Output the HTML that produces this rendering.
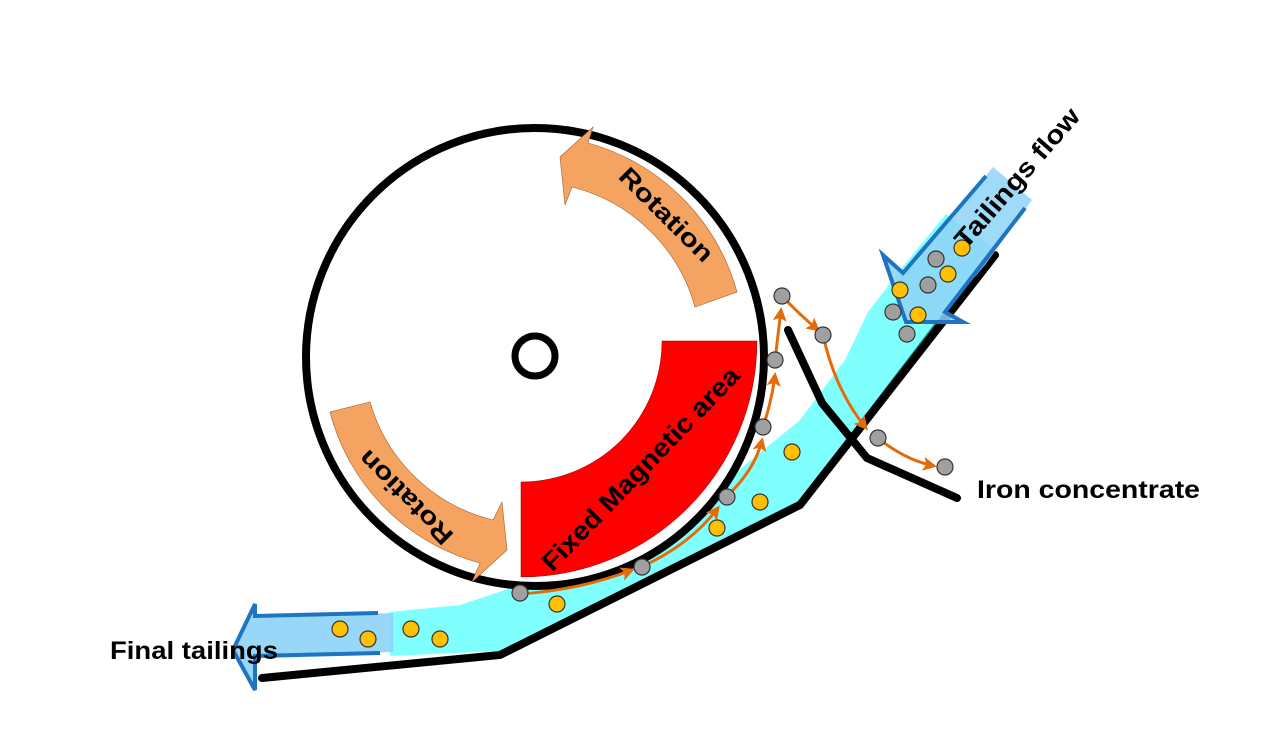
<!DOCTYPE html>
<html><head><meta charset="utf-8"><style>
html,body{margin:0;padding:0;background:#fff;}
svg{display:block;}
text{font-family:"Liberation Sans",sans-serif;font-weight:bold;fill:#000;}
</style></head><body>
<svg width="1277" height="735" viewBox="0 0 1277 735" xmlns="http://www.w3.org/2000/svg">
<defs>
<marker id="ah" markerWidth="14" markerHeight="14" refX="11" refY="7" orient="auto" markerUnits="userSpaceOnUse" viewBox="0 0 14 14">
<path d="M0,0 L14,7 L0,14 L3,7 Z" fill="#e36c0a"/>
</marker>
</defs>
<path d="M946,214 L905,264 L868,312 L845,360 L800,420 L745,465 L690,515 L610,556 L520,585 L460,605 L390,612 L390,656 L500,651 L800,500 L992,248 Z" fill="#80ffff"/>
<path d="M992,248 L800,500 L500,651 L500,657 L804,506 L998,254 Z" fill="#0f8a8a"/>
<polyline points="995,255 800,505 500,655 262,678" fill="none" stroke="#000" stroke-width="8" stroke-linecap="round"/>
<path d="M393,613 L255,616 L255,604 L233,650 L255,690 L255,656 L393,652 Z" fill="#8ed3f7" opacity="0.9"/>
<path d="M378,613 L255,616 L255,604 L233,650 L255,690 L255,656 L380,653" fill="none" stroke="#1f74c2" stroke-width="4"/>
<circle cx="535" cy="357" r="229" fill="#fff" stroke="#000" stroke-width="8"/>
<circle cx="535" cy="356" r="20" fill="none" stroke="#000" stroke-width="7"/>
<path d="M662,341 L757,341 A236,236 0 0 1 521,577 L521,482 A141,141 0 0 0 662,341 Z" fill="#ff0000" stroke="#8a0000" stroke-width="0.5"/>
<path d="M737,292 A214,214 0 0 0 588,143 L593,127 L560,157 L565,205 L572,187 A171,171 0 0 1 695,307 Z" fill="#f4a460" stroke="#a06030" stroke-width="0.6"/>
<path d="M330,412 A212,212 0 0 0 480,563 L472,582 L507,550 L502,502 L493,520 A170,170 0 0 1 370,402 Z" fill="#f4a460" stroke="#a06030" stroke-width="0.6"/>
<text x="0" y="0" font-size="25" textLength="122" lengthAdjust="spacingAndGlyphs" transform="translate(665,216) rotate(45)" text-anchor="middle" dominant-baseline="middle">Rotation</text>
<text x="0" y="0" font-size="25" textLength="122" lengthAdjust="spacingAndGlyphs" transform="translate(407,496) rotate(225)" text-anchor="middle" dominant-baseline="middle">Rotation</text>
<text x="0" y="0" font-size="26" textLength="272" lengthAdjust="spacingAndGlyphs" transform="translate(642,470) rotate(-46)" text-anchor="middle" dominant-baseline="middle">Fixed Magnetic area</text>
<polyline points="788,330 822,403 867,458 957,498" fill="none" stroke="#000" stroke-width="8" stroke-linecap="round"/>
<g fill="none" stroke="#e36c0a" stroke-width="3">
<path d="M520,594 Q580,590 632,570" marker-end="url(#ah)"/>
<path d="M641,567 Q690,545 718,508" marker-end="url(#ah)"/>
<path d="M726,497 Q755,470 762,440" marker-end="url(#ah)"/>
<path d="M763,427 Q772,400 775,375" marker-end="url(#ah)"/>
<path d="M775,360 Q778,335 781,310" marker-end="url(#ah)"/>
<path d="M782,296 Q800,315 818,330" marker-end="url(#ah)"/>
<path d="M823,335 Q835,390 866,428" marker-end="url(#ah)"/>
<path d="M878,438 Q905,460 934,466" marker-end="url(#ah)"/>
</g>
<path d="M993,167 L948,222 L903,273 L883,255 L906,322 L963,322 L945,312 L985,265 L1032,200 Z" fill="#8ed3f7" opacity="0.85"/>
<path d="M986,176 L903,273 L883,255 L906,322 L963,322 L945,312 L1025,208" fill="none" stroke="#1f74c2" stroke-width="4"/>
<g stroke="#333" stroke-width="1.2">
<g fill="#ffc000">
<circle cx="792" cy="452" r="8"/><circle cx="760" cy="502" r="8"/><circle cx="717" cy="528" r="8"/><circle cx="557" cy="604" r="8"/>
<circle cx="340" cy="629" r="8"/><circle cx="368" cy="639" r="8"/><circle cx="411" cy="629" r="8"/><circle cx="440" cy="639" r="8"/>
<circle cx="962" cy="248" r="8"/><circle cx="948" cy="274" r="8"/><circle cx="900" cy="290" r="8"/><circle cx="918" cy="315" r="8"/>
</g>
<g fill="#a0a0a0">
<circle cx="520" cy="593" r="8"/><circle cx="642" cy="567" r="8"/><circle cx="727" cy="497" r="8"/><circle cx="763" cy="427" r="8"/>
<circle cx="775" cy="360" r="8"/><circle cx="782" cy="296" r="8"/><circle cx="823" cy="335" r="8"/><circle cx="878" cy="438" r="8"/>
<circle cx="945" cy="467" r="8"/><circle cx="936" cy="259" r="8"/><circle cx="928" cy="285" r="8"/><circle cx="893" cy="312" r="8"/><circle cx="907" cy="334" r="8"/>
</g>
</g>
<text x="0" y="0" font-size="26" textLength="176" lengthAdjust="spacingAndGlyphs" transform="translate(966,250) rotate(-49)">Tailings flow</text>
<text x="977" y="498" font-size="25" textLength="223" lengthAdjust="spacingAndGlyphs">Iron concentrate</text>
<text x="110" y="659" font-size="25" textLength="168" lengthAdjust="spacingAndGlyphs">Final tailings</text>
</svg>
</body></html>
